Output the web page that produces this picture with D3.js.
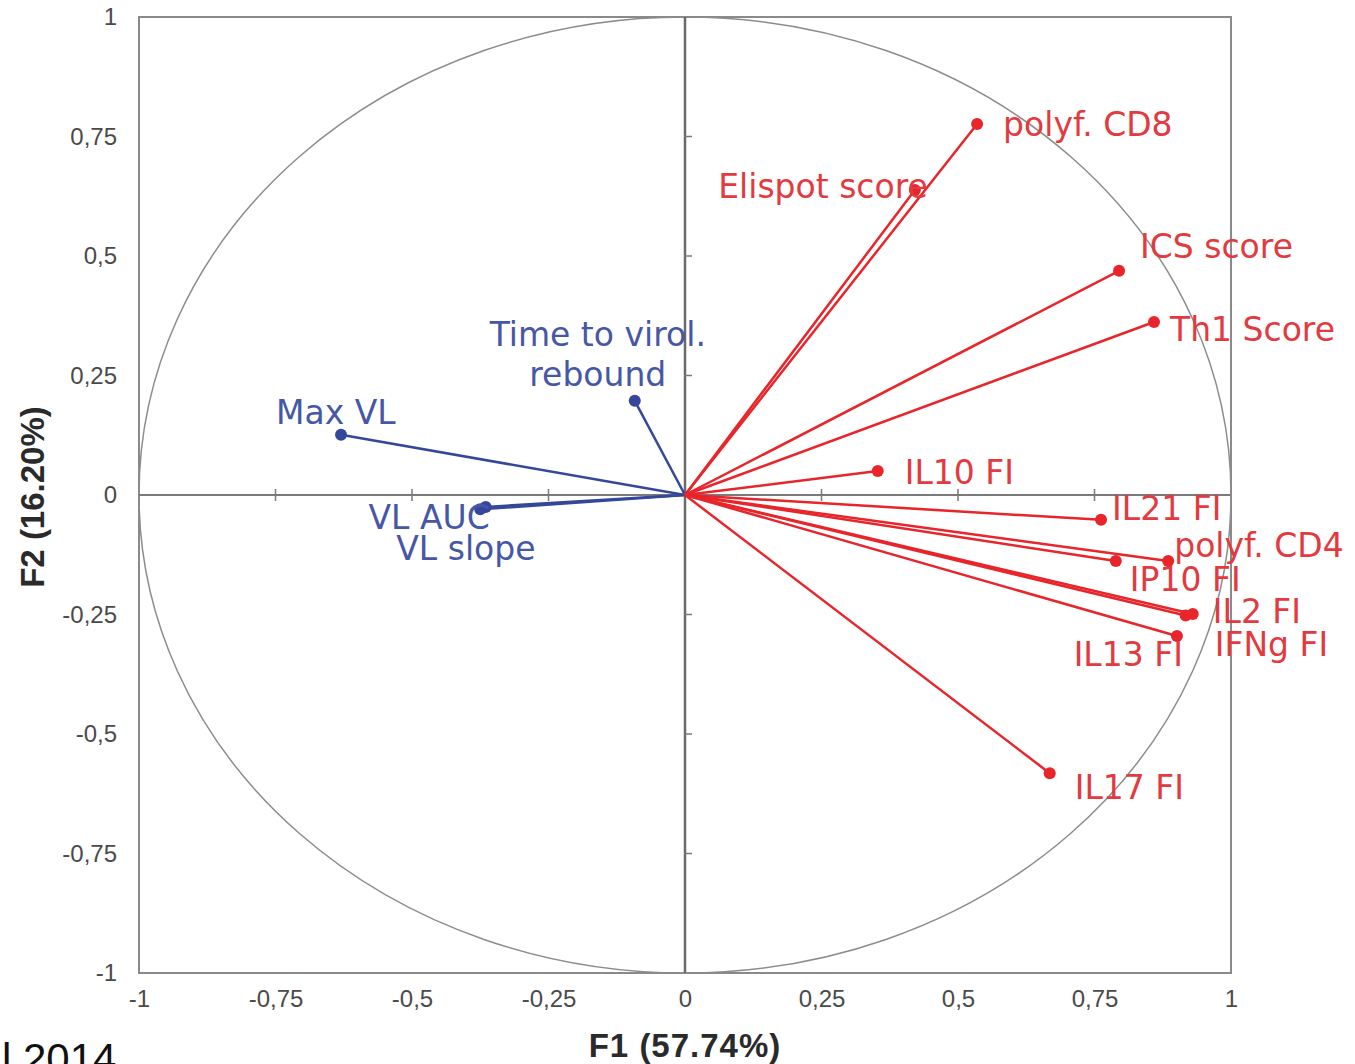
<!DOCTYPE html>
<html>
<head>
<meta charset="utf-8">
<script src="https://cdn.jsdelivr.net/npm/d3@7"></script>
<style>
  body { margin: 0; background: #fff; }
  svg { display: block; font-family: "Liberation Sans", Arial, sans-serif; }
</style>
</head>
<body>
<div class="container"></div>
<script>
// PCA correlation circle, F1 x F2
var width = 1355;
var height = 1064;
var margin = {top: 17, right: 124, bottom: 91, left: 139};

// variables (F1, F2 loadings)
var redNames = ["polyf. CD8", "Elispot score", "ICS score", "Th1 Score", "IL10 FI", "IL21 FI",
                "polyf. CD4", "IP10 FI", "IL2 FI", "IFNg FI", "IL13 FI", "IL17 FI"];
var redF1 = [0.535, 0.421, 0.795, 0.859, 0.353, 0.762, 0.885, 0.789, 0.930, 0.917, 0.901, 0.668];
var redF2 = [0.776, 0.638, 0.469, 0.362, 0.050, -0.052, -0.138, -0.138, -0.249, -0.252, -0.295, -0.582];

var blueNames = ["Max VL", "Time to virol.|rebound", "VL AUC", "VL slope"];
var blueF1 = [-0.630, -0.092, -0.365, -0.375];
var blueF2 = [0.126, 0.197, -0.025, -0.030];

var ticks = [-1, -0.75, -0.5, -0.25, 0, 0.25, 0.5, 0.75, 1];
var xTitle = "F1 (57.74%)";
var yTitle = "F2 (16.20%)";
var footnote = "l 2014";

// label placement (px from the point)
var labelPos = {
  "polyf. CD8": [26, 12, "start"],
  "Elispot score": [13, 8, "end"],
  "ICS score": [21, -13, "start"],
  "Th1 Score": [16, 19, "start"],
  "IL10 FI": [27, 13, "start"],
  "IL21 FI": [11, 0, "start"],
  "polyf. CD4": [6, -4, "start"],
  "IP10 FI": [14, 30, "start"],
  "IL2 FI": [20, 9, "start"],
  "IFNg FI": [29, 41, "start"],
  "IL13 FI": [6, 30, "end"],
  "IL17 FI": [25, 26, "start"],
  "Max VL": [-65, -11, "start"],
  "Time to virol.|rebound": [-37, -55, "middle"],
  "VL AUC": [4, 22, "end"],
  "VL slope": [-84, 51, "start"]
};

var red = "#e8252a", redText = "#e23a3f";
var blue = "#34479a", blueText = "#4657a6";

var svg = d3.select(".container").append("svg")
  .attr("width", width).attr("height", height);

//-----------------------------------------
// SCALES
var x = d3.scaleLinear().domain([-1, 1]).range([margin.left, width - margin.right]);
var y = d3.scaleLinear().domain([-1, 1]).range([height - margin.bottom, margin.top]);
var fmt = function(d) { return String(d).replace(".", ","); };

//-----------------------------------------
// FRAME, CIRCLE, AXES
svg.append("rect")
  .attr("x", x(-1)).attr("y", y(1))
  .attr("width", x(1) - x(-1)).attr("height", y(-1) - y(1))
  .attr("fill", "none").attr("stroke", "#8a8a8a").attr("stroke-width", 2);

svg.append("ellipse")
  .attr("cx", x(0)).attr("cy", y(0))
  .attr("rx", x(1) - x(0)).attr("ry", y(-1) - y(0))
  .attr("fill", "none").attr("stroke", "#8c8c8c").attr("stroke-width", 1.5);

svg.append("line")
  .attr("x1", x(-1)).attr("x2", x(1)).attr("y1", y(0)).attr("y2", y(0))
  .attr("stroke", "#7a7a7a").attr("stroke-width", 2);
svg.append("line")
  .attr("x1", x(0)).attr("x2", x(0)).attr("y1", y(1)).attr("y2", y(-1))
  .attr("stroke", "#6a6a6a").attr("stroke-width", 2.5);

var inner = ticks.filter(function(d) { return d > -1 && d < 1 && d !== 0; });
svg.append("g").selectAll("line").data(inner).enter().append("line")
  .attr("x1", function(d) { return x(d); }).attr("x2", function(d) { return x(d); })
  .attr("y1", y(0) - 6).attr("y2", y(0) + 6)
  .attr("stroke", "#7a7a7a").attr("stroke-width", 1.5);
svg.append("g").selectAll("line").data(inner).enter().append("line")
  .attr("y1", function(d) { return y(d); }).attr("y2", function(d) { return y(d); })
  .attr("x1", x(0) - 1).attr("x2", x(0) + 7)
  .attr("stroke", "#7a7a7a").attr("stroke-width", 1.5);

var xAxis = d3.axisBottom(x).tickValues(ticks).tickFormat(fmt).tickSize(0).tickPadding(0);
var gx = svg.append("g").attr("transform", "translate(0," + (y(-1) + 17) + ")").call(xAxis);
gx.select(".domain").remove();
gx.selectAll("text").attr("font-size", 24).attr("fill", "#4a4a4a")
  .attr("font-family", "Liberation Sans, sans-serif")
  .attr("dy", "0.71em");

var yAxis = d3.axisLeft(y).tickValues(ticks).tickFormat(fmt).tickSize(0).tickPadding(0);
var gy = svg.append("g").attr("transform", "translate(" + (x(-1) - 22) + ",0)").call(yAxis);
gy.select(".domain").remove();
gy.selectAll("text").attr("font-size", 24).attr("fill", "#4a4a4a")
  .attr("font-family", "Liberation Sans, sans-serif");

svg.append("text")
  .attr("x", x(0)).attr("y", 1057)
  .attr("text-anchor", "middle").attr("font-size", 33).attr("font-weight", "bold")
  .attr("letter-spacing", 1).attr("fill", "#2a2a2a").text(xTitle);

svg.append("text")
  .attr("transform", "translate(44," + (y(0) + 2) + ") rotate(-90)")
  .attr("text-anchor", "middle").attr("font-size", 33).attr("font-weight", "bold")
  .attr("fill", "#2a2a2a").text(yTitle);

svg.append("text")
  .attr("x", 2).attr("y", 1073)
  .attr("font-family", "Liberation Sans, sans-serif")
  .attr("font-size", 42).attr("fill", "#111").text(footnote);

//-----------------------------------------
// VECTORS
function drawSet(names, f1, f2, lineColor, textColor) {
  var data = names.map(function(n, i) { return {name: n, f1: f1[i], f2: f2[i]}; });
  var g = svg.append("g");
  g.selectAll("line").data(data).enter().append("line")
    .attr("x1", x(0)).attr("y1", y(0))
    .attr("x2", function(d) { return x(d.f1); })
    .attr("y2", function(d) { return y(d.f2); })
    .attr("stroke", lineColor).attr("stroke-width", 2.5);
  g.selectAll("circle").data(data).enter().append("circle")
    .attr("cx", function(d) { return x(d.f1); })
    .attr("cy", function(d) { return y(d.f2); })
    .attr("r", 6).attr("fill", lineColor);
  var t = g.selectAll("text").data(data).enter().append("text")
    .attr("x", function(d) { return x(d.f1) + labelPos[d.name][0]; })
    .attr("y", function(d) { return y(d.f2) + labelPos[d.name][1]; })
    .attr("text-anchor", function(d) { return labelPos[d.name][2]; })
    .attr("font-family", "DejaVu Sans, sans-serif")
    .attr("font-size", 33).attr("fill", textColor);
  t.each(function(d) {
    var parts = d.name.split("|");
    var el = d3.select(this);
    parts.forEach(function(p, i) {
      el.append("tspan")
        .attr("x", x(d.f1) + labelPos[d.name][0])
        .attr("dy", i === 0 ? 0 : 40)
        .text(p);
    });
  });
}

drawSet(blueNames, blueF1, blueF2, blue, blueText);
drawSet(redNames, redF1, redF2, red, redText);
</script>
</body>
</html>
